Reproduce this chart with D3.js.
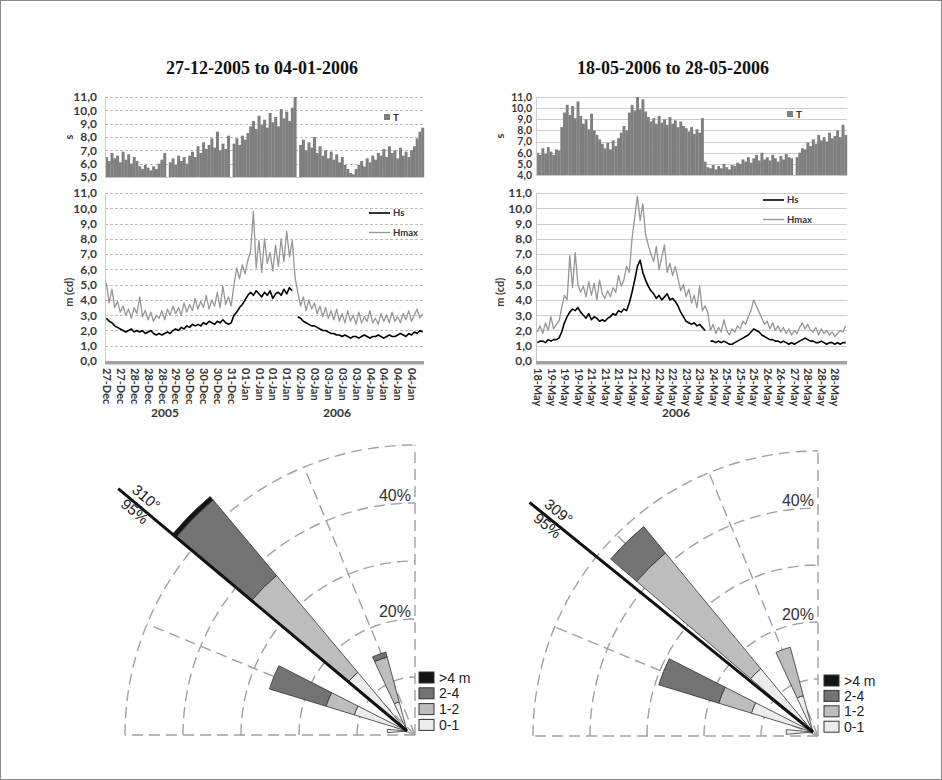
<!DOCTYPE html>
<html><head><meta charset="utf-8">
<script src="https://cdn.jsdelivr.net/npm/d3@7"></script>
<style>body{margin:0;background:#fff}svg{display:block}</style>
</head><body><svg id="c" width="942" height="780"></svg>
<script>
// ---------- DATA ----------
const leftTitle = "27-12-2005 to 04-01-2006";
const rightTitle = "18-05-2006 to 28-05-2006";
const leftLabels = ["27-Dec","27-Dec","28-Dec","28-Dec","28-Dec","29-Dec","30-Dec","30-Dec","30-Dec","31-Dec","01-Jan","01-Jan","01-Jan","01-Jan","02-Jan","03-Jan","03-Jan","03-Jan","03-Jan","04-Jan","04-Jan","04-Jan","04-Jan"];
const rightLabels = ["18-May","19-May","19-May","19-May","21-May","21-May","21-May","21-May","22-May","22-May","22-May","23-May","23-May","24-May","25-May","25-May","25-May","26-May","26-May","27-May","28-May","28-May","28-May"];
const labelEvery = 5;
const leftYears = ["2005","2006"];
const rightYears = ["2006"];

const leftT = [6.5,6.2,6.8,6.4,6.6,6.1,6.9,6.3,6.7,6.0,6.5,6.2,
 5.8,5.6,5.9,5.7,5.5,5.8,5.6,6.0,
 6.3,6.8,null,
 6.1,6.4,5.9,6.6,6.2,6.5,6.0,
 6.6,6.9,6.5,7.3,6.8,7.6,7.1,7.4,7.9,
 7.2,8.4,7.0,7.5,7.1,8.1,null,
 7.5,7.9,7.4,8.1,7.8,8.3,
 8.8,9.2,8.6,9.6,8.9,9.3,8.7,9.8,9.1,9.5,8.8,10.1,9.4,9.9,9.2,10.2,
 11.0,null,
 7.4,7.8,7.0,7.6,7.2,8.0,
 6.8,7.3,6.6,7.0,6.4,6.9,6.3,6.7,6.1,6.5,
 5.9,5.6,5.3,5.2,
 5.6,5.9,6.2,5.8,6.4,6.1,6.6,6.3,6.8,
 6.6,7.1,6.5,7.3,6.8,7.0,6.4,7.2,
 6.6,6.9,6.5,7.0,
 7.3,7.9,8.4,8.7];
const leftHs = [2.8,
 2.6,2.5,2.3,2.2,2.1,
 2.0,1.9,2.0,2.1,1.9,2.0,1.9,2.0,1.8,1.9,2.0,1.8,1.7,1.8,
 1.7,1.8,1.9,1.8,2.0,2.1,2.0,2.2,2.1,2.3,2.2,2.4,2.3,2.4,2.3,
 2.5,2.4,2.6,2.5,2.4,2.6,2.5,2.7,2.5,2.4,2.5,
 3.0,3.2,3.5,3.7,4.0,4.3,
 4.5,4.3,4.6,4.4,4.2,4.5,4.3,4.6,4.1,4.4,4.5,4.3,4.7,4.4,4.8,4.6,
 null,
 2.9,2.8,2.6,2.5,2.4,2.3,2.3,
 2.2,2.1,2.0,2.0,1.9,1.8,1.8,1.7,1.7,
 1.6,1.7,1.6,1.5,1.6,1.6,1.5,1.6,1.7,1.6,1.5,1.6,1.6,1.7,1.6,1.5,1.6,1.7,1.6,1.6,1.7,1.8,1.7,1.6,1.8,1.7,
 1.9,1.8,2.0,1.9];
const leftHmax = [5.1,
 3.8,4.7,3.5,3.9,3.2,
 3.6,3.0,3.4,2.8,3.5,3.1,4.2,2.9,3.3,2.7,3.2,2.6,3.0,2.8,
 3.3,2.7,3.4,3.0,3.6,3.1,3.5,3.0,3.8,3.2,3.7,3.3,4.1,3.4,3.9,
 3.5,4.3,3.4,4.0,3.6,4.5,3.5,4.9,3.7,4.2,3.6,
 5.0,6.1,5.4,6.3,5.7,6.6,
 7.2,9.8,6.1,7.9,5.8,8.0,6.4,7.1,5.9,7.6,6.2,8.0,6.5,8.5,6.8,7.9,
 5.5,
 4.5,3.6,4.2,3.3,4.0,3.4,3.8,
 3.1,3.6,2.9,3.5,2.8,3.3,2.7,3.4,2.6,
 3.1,2.5,3.3,2.6,3.0,2.4,3.2,2.5,2.9,2.6,3.3,2.5,2.8,2.4,3.1,2.6,3.0,2.5,3.2,2.6,2.9,2.5,3.1,2.7,3.3,2.6,
 3.0,3.4,2.8,3.1];

const rightT = [6.0,5.8,6.4,5.9,6.5,6.1,5.8,6.3,6.2,
 8.3,9.6,10.3,9.4,10.2,9.1,10.6,9.3,
 8.6,9.0,8.1,9.5,
 8.0,7.6,7.2,6.8,
 6.4,6.9,6.3,7.1,6.6,7.3,
 7.8,8.4,8.0,
 9.6,10.3,9.8,11.0,9.9,10.8,9.7,
 9.2,8.8,9.1,8.6,9.3,8.7,9.0,8.5,9.2,8.6,8.9,8.3,8.8,8.4,8.2,
 7.9,8.3,7.7,8.1,7.8,9.1,
 5.2,4.7,
 4.6,4.9,4.5,4.8,4.6,5.0,4.7,4.5,4.9,4.8,5.1,
 5.0,5.4,5.2,5.6,5.1,5.5,5.8,5.3,6.0,5.4,
 5.6,5.3,5.8,5.5,5.2,5.7,5.4,5.9,5.6,
 5.5,null,
 5.6,6.0,6.4,6.3,6.9,6.6,
 7.2,6.8,7.6,7.1,7.4,7.0,7.8,7.3,7.5,8.0,7.4,8.5,7.6];
const rightHs = [1.2,1.3,1.3,1.2,1.4,1.3,1.4,1.4,1.5,
 1.9,2.5,2.9,3.2,3.4,
 3.3,3.5,3.2,
 3.0,2.8,3.1,2.7,2.9,2.8,2.6,2.7,2.6,2.8,
 2.9,3.1,3.0,3.3,3.2,
 3.4,3.3,3.8,
 4.5,5.3,6.2,6.6,
 5.8,5.3,4.9,4.6,4.4,
 4.1,4.3,4.0,4.2,4.4,4.0,4.1,3.9,3.6,
 3.2,2.9,2.6,2.5,
 2.4,2.5,2.3,2.4,2.2,2.0,
 null,
 1.3,1.3,1.2,1.3,1.2,1.3,1.2,
 1.1,1.1,
 1.2,1.3,1.4,1.5,1.6,1.7,
 1.9,2.1,2.0,1.9,
 1.7,1.6,1.5,1.4,1.4,
 1.3,1.3,1.2,1.3,1.2,1.1,1.2,1.1,1.2,
 1.3,1.4,1.5,1.4,1.3,
 1.3,1.2,1.2,1.3,1.2,1.1,1.2,1.2,1.1,1.2,1.1,1.2,1.2];
const rightHmax = [1.9,2.3,1.8,2.5,2.0,2.9,2.1,2.4,2.6,
 3.5,4.3,4.0,6.9,4.8,
 7.1,5.0,4.5,
 4.9,4.2,5.2,4.3,5.1,4.0,5.3,4.4,4.1,4.6,
 4.2,4.8,4.5,5.6,4.9,
 5.3,6.2,5.8,
 8.0,9.4,10.8,9.2,
 10.3,8.3,7.6,7.0,6.5,
 7.5,6.0,6.8,7.6,5.8,6.4,5.6,6.2,5.4,
 4.6,5.0,4.2,4.7,
 3.8,4.3,3.5,4.9,3.3,3.6,
 3.2,
 2.0,2.4,1.8,2.2,1.9,2.7,2.0,
 1.7,2.1,
 1.9,2.3,2.1,2.6,2.4,2.9,
 3.3,4.0,3.6,3.2,
 2.8,2.4,2.6,2.1,2.5,
 2.0,2.3,1.9,2.2,1.8,2.1,1.7,2.0,1.8,
 2.2,2.5,2.1,2.4,2.0,
 1.9,2.2,1.7,2.1,1.8,2.0,1.7,1.9,1.6,1.8,2.0,1.9,2.3];

const tTicksLeft = [5,6,7,8,9,10,11];
const tTicksRight = [4,5,6,7,8,9,10,11];
const hTicks = [0,1,2,3,4,5,6,7,8,9,10,11];

// Rose data: direction (deg), % per class [0-1, 1-2, 2-4, >4]
const roseClasses = ["0-1","1-2","2-4",">4 m"];
const roseLeftDirs = [270, 292, 315, 340];
const roseLeftPct = [[3.4,0,0,0],[9.5,5.1,10.2,0],[13.2,21.8,17.0,0.8],[5.2,8.0,0.9,0]];
const roseRightDirs = [270, 292, 315.5, 340];
const roseRightPct = [[4.7,0,0,0],[11.3,6.0,11.0,0],[14.4,26.3,6.0,0],[6.6,8.8,0,0]];
const ringLevels = [10,20,30,40,50];
const ringLabels = [20,40];
const spokeDirs = [270,292.5,315,337.5,360];
const leftLine = {dir:310, len:65, labelAt:60.3, deg:"310°", pct:"95%"};
const rightLine = {dir:309, len:64, labelAt:59, deg:"309°", pct:"95%"};

// ---------- DRAW ----------
const svg = d3.select('#c');
svg.append('rect').attr('x',0.5).attr('y',0.5).attr('width',941).attr('height',779)
  .attr('fill','#fff').attr('stroke','#8a8a8a');
const fmt = v => d3.format('.1f')(v).replace('.', ',');
const SANS = 'Lato, "Open Sans", sans-serif';

function drawPanel(p) {
  const N = p.T.length;
  const x = d3.scaleLinear().domain([0, N]).range([p.x0, p.x1]);
  const step = x(1) - x(0);
  const yT = d3.scaleLinear().domain([p.tTicks[0], p.tTicks[p.tTicks.length-1]]).range([p.tBottom, 97]);
  const yH = d3.scaleLinear().domain([0, 11]).range([361, 193]);
  const g = svg.append('g');

  g.append('text').attr('x', p.cx).attr('y', 74).attr('text-anchor','middle')
    .attr('font-family','"Liberation Serif", "Times New Roman", serif').attr('font-weight','bold')
    .attr('font-size',18).attr('fill','#111').text(p.title);

  // ---- T chart ----
  g.append('g').selectAll('line').data(p.tTicks.slice(1)).join('line')
    .attr('x1', p.x0).attr('x2', p.x1)
    .attr('y1', d => Math.round(yT(d)) + 0.5).attr('y2', d => Math.round(yT(d)) + 0.5)
    .attr('stroke', p.gridColor).attr('stroke-dasharray', p.gridDash);
  g.append('g').selectAll('rect').data(p.T.map((v,i)=>[i,v]).filter(d=>d[1]!=null)).join('rect')
    .attr('x', d => x(d[0])).attr('width', step + 0.2)
    .attr('y', d => yT(d[1])).attr('height', d => yT(p.tTicks[0]) - yT(d[1]))
    .attr('fill', '#7f7f7f');
  g.append('line').attr('x1', p.x0).attr('x2', p.x1).attr('y1', yT(p.tTicks[0])+0.5).attr('y2', yT(p.tTicks[0])+0.5)
    .attr('stroke','#c8c8c8');
  const axT = g.append('g').attr('transform', `translate(${p.x0},0)`)
    .call(d3.axisLeft(yT).tickValues(p.tTicks).tickFormat(fmt).tickSize(0).tickSizeOuter(0).tickPadding(p.pad));
  axT.select('.domain').attr('stroke', '#d0d0d0');
  axT.selectAll('text').attr('font-family', SANS).attr('font-weight','bold').attr('font-size',p.tFont).attr('fill','#3a3a3a');
  g.append('text').attr('transform', `translate(${p.x0 - 32},${(yT.range()[0]+97)/2}) rotate(-90)`)
    .attr('text-anchor','middle').attr('font-family', SANS).attr('font-weight','bold').attr('font-size',11)
    .attr('fill','#3a3a3a').text('s');
  // T legend
  g.append('rect').attr('x', p.tLeg[0]).attr('y', p.tLeg[1]-3).attr('width',6).attr('height',6).attr('fill','#7f7f7f');
  g.append('text').attr('x', p.tLeg[0]+9).attr('y', p.tLeg[1]).attr('dy','0.35em')
    .attr('font-family', SANS).attr('font-weight','bold').attr('font-size',10).attr('fill','#333').text('T');

  // ---- Hs chart ----
  g.append('g').selectAll('line').data(hTicks.slice(1)).join('line')
    .attr('x1', p.x0).attr('x2', p.x1)
    .attr('y1', d => Math.round(yH(d)) + 0.5).attr('y2', d => Math.round(yH(d)) + 0.5)
    .attr('stroke', p.gridColor).attr('stroke-dasharray', p.gridDash);
  const axH = g.append('g').attr('transform', `translate(${p.x0},0)`)
    .call(d3.axisLeft(yH).tickValues(hTicks).tickFormat(fmt).tickSize(0).tickSizeOuter(0).tickPadding(p.pad));
  axH.select('.domain').attr('stroke', '#c8c8c8');
  axH.selectAll('text').attr('font-family', SANS).attr('font-weight','bold').attr('font-size',12).attr('fill','#3a3a3a');
  g.append('text').attr('transform', `translate(${p.x0 - 32},${yH(4.5)}) rotate(-90)`)
    .attr('text-anchor','middle').attr('font-family', SANS).attr('font-weight','bold').attr('font-size',11)
    .attr('fill','#3a3a3a').text('m (cd)');

  const line = d3.line().defined(d => d[1] != null).x(d => x(d[0] + 0.5)).y(d => yH(d[1]));
  g.append('path').datum(p.Hmax.map((v,i)=>[i,v])).attr('d', line)
    .attr('fill','none').attr('stroke','#969696').attr('stroke-width',1.3).attr('stroke-linejoin','round');
  g.append('path').datum(p.Hs.map((v,i)=>[i,v])).attr('d', line)
    .attr('fill','none').attr('stroke','#000').attr('stroke-width',1.6).attr('stroke-linejoin','round');

  // thick category axis bar
  g.append('rect').attr('x', p.x0).attr('width', p.x1 - p.x0).attr('y', yH(0)).attr('height', 3.5).attr('fill','#a3a3a3');

  const xa = g.append('g').attr('transform', `translate(0,${yH(0)+4})`)
    .call(d3.axisBottom(x).tickValues(p.labels.map((_,i)=>i*labelEvery+0.5))
      .tickFormat(d => p.labels[Math.round((d-0.5)/labelEvery)]).tickSize(0).tickSizeOuter(0));
  xa.select('.domain').remove();
  xa.selectAll('text').attr('transform','rotate(90)').attr('text-anchor','start')
    .attr('x', 3).attr('y', 0).attr('dy','0.35em')
    .attr('font-family', SANS).attr('font-weight','bold').attr('font-size',11).attr('fill','#333');
  p.years.forEach((yr, k) => {
    g.append('text').attr('x', p.yearX[k]).attr('y', 417).attr('text-anchor','middle')
      .attr('font-family', SANS).attr('font-weight','bold').attr('font-size',12).attr('fill','#333').text(yr);
  });

  // Hs legend
  [['Hs','#000',1.6],['Hmax','#969696',1.3]].forEach((L,k) => {
    const yy = p.hLeg[1] + k*19.5;
    g.append('line').attr('x1', p.hLeg[0]).attr('x2', p.hLeg[0]+21).attr('y1', yy).attr('y2', yy)
      .attr('stroke', L[1]).attr('stroke-width', L[2]);
    g.append('text').attr('x', p.hLeg[0]+24).attr('y', yy).attr('dy','0.35em')
      .attr('font-family', SANS).attr('font-weight','bold').attr('font-size',9.5).attr('fill','#333').text(L[0]);
  });
}

drawPanel({title:leftTitle, cx:262, x0:105, x1:424, T:leftT, Hs:leftHs, Hmax:leftHmax, tTicks:tTicksLeft,
  tBottom:177, labels:leftLabels, years:leftYears, yearX:[165,337], gridColor:'#bdbdbd', gridDash:'3,2',
  pad:8, tFont:12, tLeg:[384,117], hLeg:[369,213]});
drawPanel({title:rightTitle, cx:673, x0:536, x1:847, T:rightT, Hs:rightHs, Hmax:rightHmax, tTicks:tTicksRight,
  tBottom:175, labels:rightLabels, years:rightYears, yearX:[676], gridColor:'#cdcdcd', gridDash:null,
  pad:4, tFont:10.5, tLeg:[787,114], hLeg:[763,200]});

const classColors = ['#ececec','#bdbdbd','#737373','#141414'];

function drawRose(r) {
  const g = svg.append('g');
  const rs = d3.scaleLinear().domain([0, 50]).range([0, r.R]);
  const rad = a => a * Math.PI / 180;
  const gg = g.append('g').attr('fill','none').attr('stroke','#a0a0a0').attr('stroke-width',1.4).attr('stroke-dasharray','11,6');
  gg.selectAll('path').data(ringLevels).join('path').attr('d', d => {
    const p = d3.path(); p.moveTo(r.rcx - rs(d), r.rcy); p.arc(r.rcx, r.rcy, rs(d), Math.PI, 1.5*Math.PI); return p.toString();
  });
  gg.selectAll('line').data(spokeDirs).join('line')
    .attr('x1', r.rcx).attr('y1', r.rcy)
    .attr('x2', d => r.rcx + rs(50)*Math.sin(rad(d))).attr('y2', d => r.rcy - rs(50)*Math.cos(rad(d)));
  g.selectAll('text.rl').data(ringLabels).join('text').attr('class','rl')
    .attr('x', r.rcx - 4).attr('y', d => r.rcy - rs(d) - 2).attr('text-anchor','end')
    .attr('font-family','"Liberation Sans", Arial, sans-serif').attr('font-size',16).attr('fill','#333')
    .text(d => d + '%');

  const wg = g.append('g').attr('transform', `translate(${r.wcx},${r.wcy})`);
  const segs = [];
  r.dirs.forEach((dir, j) => { let acc = 0; r.pct[j].forEach((v,k) => { if (v > 0) { segs.push({dir, a:acc, b:acc+v, k}); acc += v; } }); });
  const arc = d3.arc();
  wg.selectAll('path').data(segs).join('path')
    .attr('d', d => arc({innerRadius: rs(d.a), outerRadius: rs(d.b), startAngle: rad(d.dir-5), endAngle: rad(d.dir+5)}))
    .attr('fill', d => classColors[d.k]).attr('stroke','#333').attr('stroke-width',0.8).attr('stroke-linejoin','round');

  const L = r.line, a = rad(L.dir);
  wg.append('line').attr('x1',0).attr('y1',0)
    .attr('x2', rs(L.len)*Math.sin(a)).attr('y2', -rs(L.len)*Math.cos(a))
    .attr('stroke','#111').attr('stroke-width',3);
  const lt = wg.append('g').attr('transform', `translate(${rs(L.labelAt)*Math.sin(a)},${-rs(L.labelAt)*Math.cos(a)}) rotate(${L.dir-270})`)
    .attr('font-family','"Liberation Sans", Arial, sans-serif').attr('font-size',15).attr('fill','#222').attr('text-anchor','middle');
  lt.append('text').attr('y', -6).text(L.deg);
  lt.append('text').attr('y', 12).text(L.pct);

  // legend
  const order = [3,2,1,0];
  const lg = g.append('g');
  order.forEach((k, i) => {
    const yy = r.leg[1] + i*r.leg[2];
    lg.append('rect').attr('x', r.leg[0]).attr('y', yy).attr('width', 15).attr('height', 11)
      .attr('fill', classColors[k]).attr('stroke','#333').attr('stroke-width',1);
    lg.append('text').attr('x', r.leg[0] + 20).attr('y', yy + 10.5)
      .attr('font-family','"Liberation Sans", Arial, sans-serif').attr('font-size',14).attr('fill','#222')
      .text(roseClasses[k]);
  });
}

drawRose({R:290, rcx:415, rcy:735, wcx:407, wcy:731, dirs:roseLeftDirs, pct:roseLeftPct, line:leftLine, leg:[419,672,15.8]});
drawRose({R:285, rcx:818, rcy:736, wcx:813, wcy:732, dirs:roseRightDirs, pct:roseRightPct, line:rightLine, leg:[824,675,15.4]});
</script></body></html>
